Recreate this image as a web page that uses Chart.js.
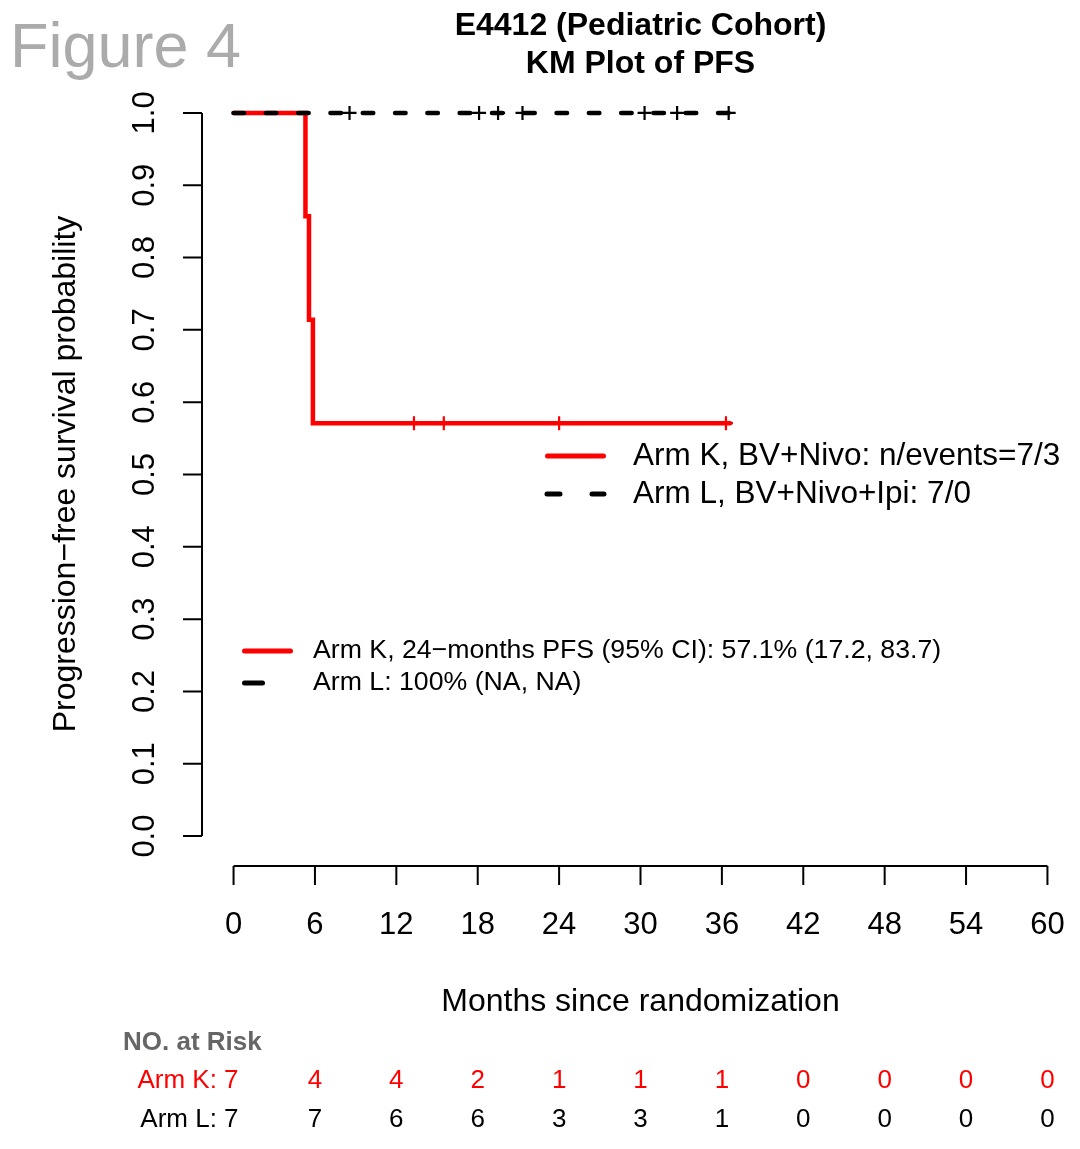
<!DOCTYPE html>
<html><head><meta charset="utf-8">
<script src="https://cdn.jsdelivr.net/npm/chart.js@4.4.0/dist/chart.umd.min.js"></script>
<style>html,body{margin:0;padding:0;background:#fff;}canvas{display:block;}</style>
</head><body>
<canvas id="c" width="1080" height="1149"></canvas>
<script>
// ---- data ----
const xTicks = [0, 6, 12, 18, 24, 30, 36, 42, 48, 54, 60];
const yTicks = [0, 0.1, 0.2, 0.3, 0.4, 0.5, 0.6, 0.7, 0.8, 0.9, 1.0];
const yTickLabels = ['0.0','0.1','0.2','0.3','0.4','0.5','0.6','0.7','0.8','0.9','1.0'];

const armKTimes = [0, 5.3, 5.56, 5.85, 36.6];
const armKSurv  = [1, 0.857, 0.714, 0.571, 0.571];
const armKCensorTimes = [13.3, 15.5, 24.0, 36.3];
const armKCensorSurv  = [0.571, 0.571, 0.571, 0.571];

const armLTimes = [0, 36.9];
const armLSurv  = [1, 1];
const armLCensorTimes = [8.55, 18.1, 19.5, 21.3, 30.3, 32.7, 36.5];
const armLCensorSurv  = [1, 1, 1, 1, 1, 1, 1];

const riskTimes = [0, 6, 12, 18, 24, 30, 36, 42, 48, 54, 60];
const riskK = [7, 4, 4, 2, 1, 1, 1, 0, 0, 0, 0];
const riskL = [7, 7, 6, 6, 3, 3, 1, 0, 0, 0, 0];

const titleLines = ['E4412 (Pediatric Cohort)', 'KM Plot of PFS'];
const legend1 = ['Arm K, BV+Nivo: n/events=7/3', 'Arm L, BV+Nivo+Ipi: 7/0'];
const legend2 = ['Arm K, 24\u2212months PFS (95% CI): 57.1% (17.2, 83.7)', 'Arm L: 100% (NA, NA)'];

const RED = '#ff0000', BLACK = '#000000';
const FONT = '"Liberation Sans", Arial, Helvetica, sans-serif';

const pts = (xs, ys) => xs.map((x, i) => ({x: x, y: ys[i]}));

const decor = {
  id: 'decor',
  afterDraw(chart) {
    const ctx = chart.ctx, xs = chart.scales.x, ys = chart.scales.y, ca = chart.chartArea;
    ctx.save();
    ctx.strokeStyle = BLACK; ctx.fillStyle = BLACK; ctx.lineWidth = 2; ctx.lineCap = 'butt';

    // y axis
    const ax = ca.left + 1;
    ctx.beginPath();
    ctx.moveTo(ax, ys.getPixelForValue(yTicks[0]));
    ctx.lineTo(ax, ys.getPixelForValue(yTicks[yTicks.length - 1]));
    yTicks.forEach(v => { const p = ys.getPixelForValue(v); ctx.moveTo(ax, p); ctx.lineTo(ax - 19, p); });
    ctx.stroke();
    ctx.font = '31px ' + FONT; ctx.textAlign = 'center'; ctx.textBaseline = 'middle';
    yTicks.forEach((v, i) => {
      const p = ys.getPixelForValue(v);
      ctx.save(); ctx.translate(145, p); ctx.rotate(-Math.PI / 2); ctx.fillText(yTickLabels[i], 0, 0); ctx.restore();
    });

    // x axis
    const ay = ca.bottom + 1;
    ctx.beginPath();
    ctx.moveTo(xs.getPixelForValue(xTicks[0]), ay);
    ctx.lineTo(xs.getPixelForValue(xTicks[xTicks.length - 1]), ay);
    xTicks.forEach(v => { const p = xs.getPixelForValue(v); ctx.moveTo(p, ay); ctx.lineTo(p, ay + 19); });
    ctx.stroke();
    xTicks.forEach(v => ctx.fillText(String(v), xs.getPixelForValue(v), 925));

    // axis titles
    ctx.font = '32px ' + FONT;
    const cx = (ca.left + ca.right) / 2;
    ctx.fillText('Months since randomization', cx, 1002);
    ctx.save(); ctx.translate(66, 474); ctx.rotate(-Math.PI / 2);
    ctx.fillText('Progression\u2212free survival probability', 0, 0); ctx.restore();

    // title
    ctx.font = 'bold 32px ' + FONT; ctx.textBaseline = 'alphabetic';
    ctx.fillText(titleLines[0], cx, 35);
    ctx.fillText(titleLines[1], cx, 73);

    // Figure 4
    ctx.font = '63px ' + FONT; ctx.fillStyle = '#ababab'; ctx.textAlign = 'left';
    ctx.fillText('Figure 4', 10, 67);

    // legend 1
    ctx.lineCap = 'round'; ctx.lineWidth = 5;
    ctx.strokeStyle = RED; ctx.beginPath(); ctx.moveTo(547.5, 456); ctx.lineTo(603.5, 456); ctx.stroke();
    ctx.strokeStyle = BLACK; ctx.setLineDash([13, 32]); ctx.beginPath(); ctx.moveTo(547, 494); ctx.lineTo(604, 494); ctx.stroke();
    ctx.setLineDash([]);
    ctx.fillStyle = BLACK; ctx.textBaseline = 'middle'; ctx.font = '31.5px ' + FONT;
    ctx.fillText(legend1[0], 633, 456);
    ctx.fillText(legend1[1], 633, 494);

    // legend 2
    ctx.strokeStyle = RED; ctx.beginPath(); ctx.moveTo(244.5, 651); ctx.lineTo(290.5, 651); ctx.stroke();
    ctx.strokeStyle = BLACK; ctx.beginPath(); ctx.moveTo(244.5, 683); ctx.lineTo(262.5, 683); ctx.stroke();
    ctx.font = '26.7px ' + FONT;
    ctx.fillText(legend2[0], 313, 651);
    ctx.fillText(legend2[1], 313, 683);

    // risk table
    ctx.font = 'bold 26px ' + FONT; ctx.fillStyle = '#666666'; ctx.textAlign = 'left';
    ctx.fillText('NO. at Risk', 123, 1043);
    ctx.font = '26px ' + FONT;
    const rows = [['Arm K: ', riskK, RED, 1081], ['Arm L: ', riskL, BLACK, 1120]];
    rows.forEach(([lab, vals, col, y]) => {
      ctx.fillStyle = col;
      vals.forEach((v, i) => {
        const p = xs.getPixelForValue(riskTimes[i]);
        if (i === 0) { ctx.textAlign = 'right'; ctx.fillText(lab + v, p + 5, y); }
        else { ctx.textAlign = 'center'; ctx.fillText(String(v), p, y); }
      });
    });
    ctx.restore();
  }
};

new Chart(document.getElementById('c'), {
  type: 'scatter',
  data: {
    datasets: [
      { label: 'Arm L censored', data: pts(armLCensorTimes, armLCensorSurv), showLine: false,
        pointStyle: 'cross', pointRadius: 7, pointBorderWidth: 2.2, pointBorderColor: BLACK, borderColor: BLACK, order: 0 },
      { label: 'Arm K censored', data: pts(armKCensorTimes, armKCensorSurv), showLine: false,
        pointStyle: 'cross', pointRadius: 7, pointBorderWidth: 2.2, pointBorderColor: RED, borderColor: RED, order: 1 },
      { label: 'Arm L', type: 'line', data: pts(armLTimes, armLSurv), borderColor: BLACK, borderWidth: 4.5,
        borderDash: [10.5, 21.8], borderCapStyle: 'round', stepped: 'before', pointRadius: 0, fill: false, order: 2 },
      { label: 'Arm K', type: 'line', data: pts(armKTimes, armKSurv), borderColor: RED, borderWidth: 4.5,
        borderCapStyle: 'round', stepped: 'before', pointRadius: 0, fill: false, order: 3 }
    ]
  },
  options: {
    responsive: false, devicePixelRatio: 1, animation: false, events: [],
    layout: { autoPadding: false, padding: { left: 201, right: 0, top: 84, bottom: 284 } },
    scales: {
      x: { type: 'linear', min: -2.4, max: 62.4, display: false },
      y: { type: 'linear', min: -0.04, max: 1.04, display: false }
    },
    plugins: { legend: { display: false }, tooltip: { enabled: false }, title: { display: false } }
  },
  plugins: [decor]
});
</script>
</body></html>
